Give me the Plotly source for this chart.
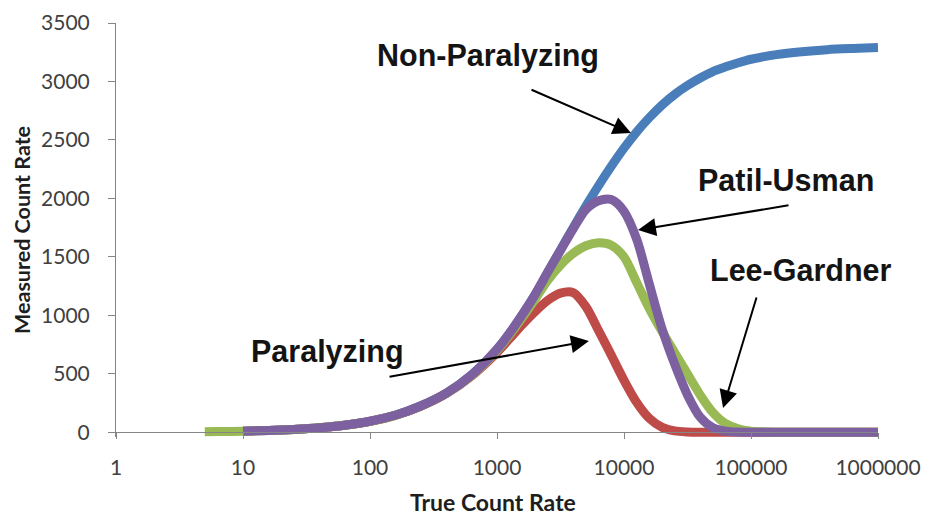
import plotly.graph_objects as go

# ---------------- data ----------------
true_rate = [10, 16, 25, 40, 63, 100, 160, 250, 400, 630, 1000, 1260, 1580, 2000,
             2510, 3160, 3980, 5010, 6310, 7940, 10000, 12600, 15800, 20000, 25100,
             31600, 39800, 50100, 63100, 79400, 100000, 158000, 251000, 398000,
             631000, 1000000]
green_rate = [5, 6.3] + true_rate

non_paralyzing = [10, 16, 25, 39, 61, 95, 148, 225, 335, 490, 710, 850, 1005, 1180,
                  1370, 1560, 1750, 1935, 2110, 2275, 2430, 2570, 2690, 2800, 2890,
                  2965, 3030, 3085, 3125, 3160, 3190, 3230, 3255, 3272, 3282, 3290]

paralyzing = [10, 16, 25, 39, 61, 94, 146, 222, 332, 482, 683, 802, 921, 1034,
              1128, 1190, 1195, 1075, 870, 660, 445, 255, 120, 42, 12, 3, 0.5, 0,
              0, 0, 0, 0, 0, 0, 0, 0]

lee_gardner = [5, 6, 10, 16, 25, 39, 61, 94, 147, 224, 334, 486, 700, 835, 980, 1140,
               1300, 1430, 1530, 1595, 1620, 1600, 1500, 1280, 1060, 860, 680, 500,
               320, 170, 75, 30, 10, 1, 0, 0, 0, 0]

patil_usman = [10, 16, 25, 39, 61, 95, 148, 225, 335, 490, 710, 850, 1005, 1180,
               1370, 1555, 1740, 1905, 1980, 1990, 1890, 1650, 1270, 880, 580, 320,
               130, 40, 10, 2, 0.5, 0, 0, 0, 0, 0]

x_tick_vals = [1, 10, 100, 1000, 10000, 100000, 1000000]
x_tick_text = ["1", "10", "100", "1000", "10000", "100000", "1000000"]
y_tick_vals = [0, 500, 1000, 1500, 2000, 2500, 3000, 3500]

series_names = ["Non-Paralyzing", "Paralyzing", "Lee-Gardner", "Patil-Usman"]
series_colors = ["#4A7EBB", "#BE4B48", "#98B954", "#7D60A0"]

# ---------------- figure ----------------
fig = go.Figure()
xs = [true_rate, true_rate, green_rate, true_rate]
ys = [non_paralyzing, paralyzing, lee_gardner, patil_usman]
for name, color, x, y in zip(series_names, series_colors, xs, ys):
    fig.add_trace(go.Scatter(
        x=x, y=y, mode="lines", name=name,
        line=dict(color=color, width=9, shape="spline", smoothing=0.8),
        showlegend=False, hoverinfo="x+y+name"))

axis_grey = "#868686"
tick_font = dict(family="Lato", size=21, color="#404040")

fig.update_layout(
    width=926, height=516,
    margin=dict(l=116, r=48, t=23, b=79),
    paper_bgcolor="white", plot_bgcolor="white",
    xaxis=dict(
        type="log", range=[0, 6], automargin=False,
        tickmode="array", tickvals=x_tick_vals, ticktext=x_tick_text,
        ticks="outside", ticklen=6, tickcolor=axis_grey, tickwidth=1,
        showline=True, linecolor=axis_grey, linewidth=1,
        showgrid=False, zeroline=False,
        anchor="free", position=40 / 3540,
        tickfont=tick_font, ticklabelstandoff=10,
    ),
    yaxis=dict(
        range=[-40, 3500], automargin=False,
        tickmode="array", tickvals=y_tick_vals,
        ticks="outside", ticklen=7, tickcolor=axis_grey, tickwidth=1,
        showline=True, linecolor=axis_grey, linewidth=1,
        showgrid=False, zeroline=False,
        tickfont=tick_font, ticklabelstandoff=14,
    ),
)

# axis titles placed as paper-anchored text
fig.add_annotation(x=0.4948, y=-0.157, xref="paper", yref="paper", text="True Count Rate",
                   showarrow=False, xanchor="center", yanchor="middle",
                   font=dict(family="Lato", size=23, color="#1E1E1E", weight="bold"))
fig.add_annotation(x=-0.1234, y=0.5, xref="paper", yref="paper", text="Measured Count Rate",
                   showarrow=False, textangle=-90, xanchor="center", yanchor="middle",
                   font=dict(family="Lato", size=21.5, color="#1E1E1E", weight="bold"))

label_font = dict(family="Liberation Sans", size=30.5, color="#141414", weight="bold")

# text labels (x in log10 units, y in data units)
labels = [
    ("Non-Paralyzing", 2.929, 3218),
    ("Patil-Usman", 5.276, 2157),
    ("Lee-Gardner", 5.386, 1388),
    ("Paralyzing", 1.665, 687),
]
for text, lx, ly in labels:
    fig.add_annotation(x=lx, y=ly, xref="x", yref="y", text=text, showarrow=False,
                       font=label_font, xanchor="center", yanchor="middle")

# arrows: (tip_x, tip_y, tail_x, tail_y)
arrows = [
    (4.055, 2559, 3.260, 2935),
    (4.110, 1729, 5.307, 1943),
    (4.780, 208, 5.047, 1166),
    (3.724, 781, 2.142, 473),
]
for tx, ty, ax_, ay_ in arrows:
    fig.add_annotation(x=tx, y=ty, xref="x", yref="y",
                       ax=ax_, ay=ay_, axref="x", ayref="y",
                       text="", showarrow=True, arrowhead=2, arrowsize=1.8,
                       arrowwidth=2, arrowcolor="#000000", standoff=0)

fig.write_html("out.html")
